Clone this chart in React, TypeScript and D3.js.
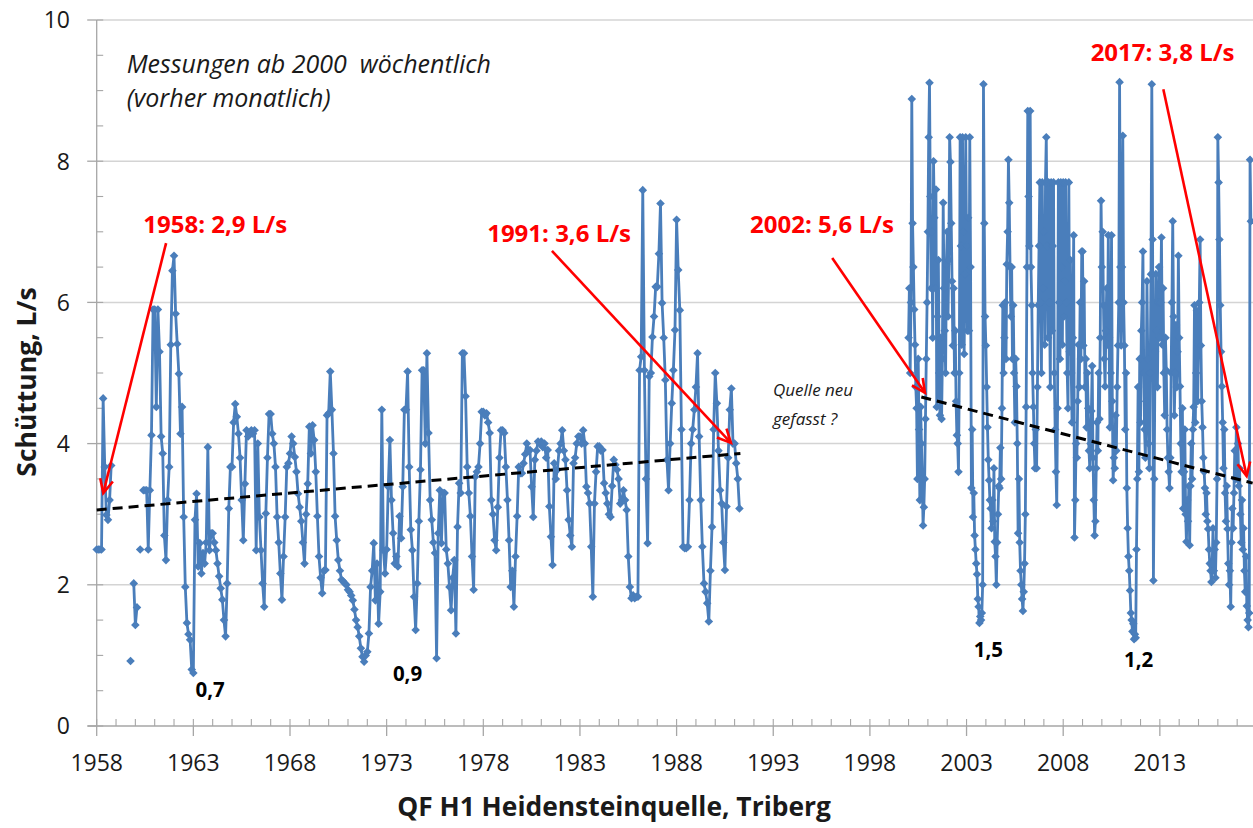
import React from 'react';
import * as d3 from 'd3';

// ---------- data: monthly measurements 1958-1991 (null = no value) ----------
const monthly1958to1964: (number | null)[] = [
  2.5, 2.5, 2.5, 2.5, 4.64, 3.67, 2.99, 2.92, 3.2, 3.69, null, null,
  null, null, null, null, null, null, null, null, null, 0.92, null, 2.02,
  1.43, 1.68, null, 2.5, null, 3.34, 3.34, 3.34, 2.5, 3.34, 4.12, 5.9,
  5.9, 4.52, 5.9, 5.3, 4.1, 3.86, 2.7, 2.35, 3.2, 3.67, 5.4, 6.45,
  6.66, 5.84, 5.41, 4.99, 4.14, 4.52, 2.96, 1.97, 1.46, 1.3, 1.22, 0.8,
  0.75, 2.92, 3.29, 2.26, 2.59, 2.16, 2.45, 2.3, 2.6, 3.95, 2.49, 2.73,
  2.73, 2.6, 2.49, 2.3, 2.12, 1.95, 1.79, 1.5, 1.27, 2.02, 3.08, 3.67,
];
const monthly1965to1971: (number | null)[] = [
  3.67, 4.3, 4.56, 4.38, 4.14, 3.8, 3.2, 2.63, 3.43, 4.19, 4.1, 4.14,
  4.19, 4.14, 4.19, 2.49, 4.0, 2.96, 2.49, 2.02, 1.69, 3.01, 3.8, 4.42,
  4.42, 4.14, 4.0, 3.67, 2.96, 2.6, 2.16, 1.79, 2.4, 2.96, 3.67, 3.72,
  3.86, 4.1, 4.0, 3.81, 3.6, 3.29, 3.1, 2.9, 2.6, 2.3, 3.0, 3.43,
  4.24, 3.86, 4.26, 4.05, 3.6, 2.97, 2.4, 2.1, 1.88, 2.2, 2.21, 4.4,
  4.43, 5.02, 4.48, 3.86, 2.97, 2.63, 2.35, 2.2, 2.07, 2.05, 2.02, 2.0,
  1.93, 1.9, 1.85, 1.78, 1.65, 1.5, 1.4, 1.27, 1.1, 0.98, 0.91, 1.0,
];
const monthly1972to1978: (number | null)[] = [
  1.05, 1.31, 1.97, 2.2, 2.59, 1.78, 2.3, 1.45, 1.9, 4.48, 2.49, 2.16,
  2.5, 3.39, 4.05, 3.2, 2.73, 2.3, 2.4, 2.26, 2.97, 2.66, 3.39, 4.48,
  4.48, 5.02, 3.67, 2.78, 2.49, 1.83, 1.36, 2.02, 2.9, 3.63, 5.04, 5.04,
  4.0, 5.28, 4.15, 3.2, 2.92, 2.6, 2.45, 0.96, 2.73, 3.34, 2.59, 3.3,
  3.3, 2.5, 2.3, 1.97, 1.64, 2.1, 2.35, 1.31, 2.82, 3.44, 3.3, 5.28,
  5.28, 4.67, 3.67, 3.3, 2.97, 2.4, 1.93, 3.53, 3.6, 3.67, 4.0, 4.45,
  4.45, 4.4, 4.43, 4.3, 4.15, 3.2, 3.0, 2.63, 2.49, 3.1, 3.8, 4.19,
];
const monthly1979to1985: (number | null)[] = [
  4.19, 4.15, 3.67, 3.2, 2.63, 1.97, 2.2, 1.69, 2.4, 2.97, 3.67, 3.58,
  3.58, 3.72, 3.85, 4.0, 3.9, 3.91, 3.39, 2.96, 3.77, 3.9, 4.03, 4.0,
  4.03, 3.95, 4.0, 3.8, 3.91, 3.11, 2.68, 2.28, 3.72, 3.5, 3.63, 3.9,
  4.0, 4.19, 3.9, 3.77, 3.34, 2.92, 2.7, 2.54, 3.72, 3.8, 4.0, 4.1,
  4.1, 4.0, 4.19, 4.0, 3.39, 3.3, 3.15, 2.54, 1.83, 3.15, 3.6, 3.96,
  3.96, 3.9, 3.91, 3.44, 3.3, 3.15, 3.0, 2.96, 3.4, 3.77, 3.7, 3.63,
  3.5, 3.15, 3.2, 3.34, 3.2, 3.06, 2.4, 1.97, 1.81, 1.85, 1.81, 1.83,
];
const monthly1986to1991: (number | null)[] = [
  1.83, 5.04, 5.23, 7.59, 5.04, 3.5, 2.59, 4.95, 5.0, 5.51, 5.8, 6.22,
  6.22, 6.69, 7.4, 5.99, 5.5, 4.9, 3.77, 3.34, 4.0, 4.57, 5.04, 5.61,
  7.17, 6.46, 5.89, 4.2, 2.54, 2.52, 2.52, 2.54, 3.2, 4.0, 4.2, 4.48,
  4.8, 5.28, 4.1, 3.2, 2.54, 2.02, 1.9, 1.74, 1.48, 2.2, 2.82, 4.2,
  5.0, 4.57, 3.9, 3.34, 3.15, 2.6, 2.21, 3.11, 3.8, 4.48, 4.78, 4.0,
  4.0, 3.72, 3.5, 3.08,
];

// ---------- data: twice-monthly readings 2000-2017 ----------
const semi2000to2005: number[] = [
  5.5, 6.2, 5.0, 6.0, 8.88, 7.12, 6.5, 5.9, 5.4, 4.8, 4.5, 3.5, 5.2, 4.2, 3.2, 4.52, 4.0, 3.5, 2.84, 3.1, 3.5, 4.35, 5.2, 6.0,
  7.0, 8.34, 9.11, 7.5, 6.2, 7.0, 5.5, 8.0, 7.2, 6.2, 7.6, 4.52, 5.8, 6.6, 5.0, 4.4, 5.5, 4.35, 5.2, 7.41, 6.2, 5.6, 5.0, 6.54,
  7.0, 5.8, 6.6, 8.34, 7.99, 7.12, 6.3, 5.39, 6.2, 5.0, 5.6, 4.6, 4.12, 4.0, 3.6, 5.0, 8.34, 6.8, 5.4, 8.34, 7.0, 5.27, 6.4, 8.34,
  6.8, 5.6, 7.2, 5.6, 8.34, 6.5, 3.37, 4.2, 2.96, 3.3, 2.7, 2.5, 2.3, 2.15, 1.8, 1.69, 1.46, 1.55, 1.5, 1.6, 2.0, 9.09, 7.12, 5.8,
  5.39, 4.8, 4.23, 3.77, 3.48, 3.2, 3.08, 2.8, 3.2, 2.9, 3.65, 2.61, 2.4, 2.0, 2.6, 3.0, 3.4, 3.37, 3.94, 3.5, 4.5, 5.96, 5.0, 5.5,
  6.0, 5.2, 6.54, 7.0, 8.02, 7.41, 6.5, 5.8, 6.5, 5.2, 5.96, 5.0, 4.3, 5.2, 4.81, 4.0, 2.73, 3.5, 2.6, 2.2, 2.0, 1.8, 1.63, 1.9,
];
const semi2006to2011: number[] = [
  2.3, 3.0, 4.52, 6.5, 8.71, 7.5, 6.8, 8.71, 6.5, 5.96, 5.0, 4.52, 4.0, 3.65, 4.2, 3.65, 4.8, 5.96, 6.8, 7.7, 6.0, 5.0, 7.7, 6.2,
  7.0, 5.4, 7.7, 8.34, 6.8, 5.5, 7.7, 6.0, 4.8, 7.7, 5.6, 6.8, 7.7, 5.0, 4.2, 3.6, 3.13, 4.5, 7.7, 6.0, 5.2, 7.7, 6.5, 5.4,
  7.7, 5.8, 6.3, 7.7, 6.0, 5.0, 4.5, 7.7, 5.3, 6.6, 5.0, 4.3, 5.5, 6.95, 2.67, 3.2, 4.0, 3.8, 4.6, 5.4, 4.8, 6.0, 5.2, 6.72,
  6.72, 5.39, 6.3, 4.8, 5.2, 4.23, 5.0, 4.5, 3.9, 3.65, 4.0, 4.46, 5.1, 3.8, 3.2, 2.7, 2.9, 3.65, 4.3, 3.9, 5.0, 4.35, 5.5, 7.44,
  6.5, 7.0, 5.96, 5.2, 4.81, 5.6, 6.2, 5.4, 6.95, 5.5, 4.23, 5.0, 6.95, 4.6, 3.48, 3.8, 3.65, 4.4, 3.9, 4.8, 5.39, 6.0, 9.12, 6.5,
  5.39, 6.5, 8.36, 6.0, 5.39, 4.2, 5.0, 3.37, 2.8, 2.4, 2.2, 1.92, 1.6, 1.5, 1.34, 1.45, 1.23, 1.3, 1.25, 2.5, 3.5, 4.8, 3.6, 5.2,
];
const semi2012to2017: number[] = [
  4.3, 5.6, 6.0, 6.72, 5.0, 4.2, 3.8, 4.6, 6.3, 5.2, 4.0, 3.65, 5.0, 6.4, 9.09, 6.89, 2.06, 3.5, 5.3, 6.4, 5.6, 4.8, 6.0, 6.5,
  5.5, 6.0, 6.92, 5.4, 6.2, 5.0, 4.4, 5.5, 5.04, 4.2, 3.8, 3.6, 3.37, 3.8, 5.0, 6.0, 7.15, 5.8, 4.4, 5.0, 5.68, 4.8, 5.3, 6.66,
  5.5, 4.81, 4.0, 3.6, 4.5, 3.08, 3.6, 4.2, 3.0, 2.61, 3.2, 2.9, 3.4, 2.56, 3.4, 4.0, 3.5, 4.2, 4.52, 5.96, 4.3, 5.0, 5.88, 4.6,
  5.4, 6.0, 6.89, 5.39, 4.6, 4.23, 3.8, 3.6, 3.37, 3.0, 3.3, 2.9, 2.79, 2.5, 2.3, 2.2, 2.04, 2.3, 2.8, 2.2, 2.5, 2.1, 2.6, 3.5,
  8.34, 7.7, 6.89, 5.96, 5.3, 4.81, 4.3, 3.65, 4.2, 3.3, 2.9, 3.4, 2.79, 2.3, 2.0, 2.2, 1.69, 2.6, 3.08, 2.8, 3.3, 3.9, 3.5, 4.23,
  3.5, 4.0, 3.4, 3.65, 3.0, 2.6, 3.2, 2.5, 2.8, 2.2, 1.9, 2.4, 1.7, 1.5, 1.4, 1.6, 8.02, 7.15,
];

// trend lines (year, L/s)
const trendEarly = [{ t: 1958.0, v: 3.06 }, { t: 1991.3, v: 3.86 }];
const trendLate = [{ t: 2000.66, v: 4.66 }, { t: 2017.8, v: 3.44 }];

// axis ticks
const xMajorTicks = [1958, 1963, 1968, 1973, 1978, 1983, 1988, 1993, 1998, 2003, 2008, 2013];
const yMajorTicks = [0, 2, 4, 6, 8, 10];

// annotations (data coordinates)
const arrowNotes = [
  { label: '1958: 2,9 L/s', lt: 1960.41, lv: 6.98, ft: 1961.59, fv: 6.84, tt: 1958.34, tv: 3.3 },
  { label: '1991: 3,6 L/s', lt: 1978.2, lv: 6.86, ft: 1981.55, fv: 6.73, tt: 1990.81, tv: 4.01 },
  { label: '2002: 5,6 L/s', lt: 1991.8, lv: 6.98, ft: 1996.05, fv: 6.63, tt: 2000.85, tv: 4.72 },
  { label: '2017: 3,8 L/s', lt: 2009.42, lv: 9.42, ft: 2013.18, fv: 9.02, tt: 2017.49, tv: 3.54 },
];
const minLabels = [
  { label: '0,7', t: 1963.87, v: 0.41 },
  { label: '0,9', t: 1974.08, v: 0.64 },
  { label: '1,5', t: 2004.13, v: 0.98 },
  { label: '1,2', t: 2011.9, v: 0.84 },
];

type Pt = { t: number; v: number | null };
const expand = (vals: (number | null)[], start: number, perYear: number): Pt[] =>
  vals.map((v, i) => ({ t: start + i / perYear, v }));

const FONT = "'Open Sans', sans-serif";
const BLUE = '#4a7ebb';

export default function App() {
  const left = 96.7;
  const pxPerYear = 19.33;
  const x = d3.scaleLinear().domain([1958, 2018]).range([left, left + 60 * pxPerYear]);
  const y = d3.scaleLinear().domain([0, 10]).range([726, 20]);
  const right = 1253;

  const early: Pt[] = [
    ...expand(monthly1958to1964, 1958, 12),
    ...expand(monthly1965to1971, 1965, 12),
    ...expand(monthly1972to1978, 1972, 12),
    ...expand(monthly1979to1985, 1979, 12),
    ...expand(monthly1986to1991, 1986, 12),
  ];
  const late: Pt[] = [
    ...expand(semi2000to2005, 2000, 24),
    ...expand(semi2006to2011, 2006, 24),
    ...expand(semi2012to2017, 2012, 24),
  ];

  const line = d3
    .line<Pt>()
    .defined((d) => d.v != null)
    .x((d) => x(d.t))
    .y((d) => y(d.v as number));

  const trendLine = d3
    .line<{ t: number; v: number }>()
    .x((d) => x(d.t))
    .y((d) => y(d.v));

  const r = 4.3;
  const diamond = `M0,${-r}L${r},0L0,${r}L${-r},0Z`;

  const xMinor = d3.range(1958, 2018);
  const yMinor = d3.range(0, 10.01, 0.5);

  const arrowHead = (x1: number, y1: number, x2: number, y2: number) => {
    const a = Math.atan2(y2 - y1, x2 - x1);
    const len = 15;
    const spread = 0.45;
    const p1 = [x2 - len * Math.cos(a - spread), y2 - len * Math.sin(a - spread)];
    const p2 = [x2 - len * Math.cos(a + spread), y2 - len * Math.sin(a + spread)];
    return `M${p1[0]},${p1[1]}L${x2},${y2}L${p2[0]},${p2[1]}`;
  };

  const allPts = [...early, ...late].filter((d) => d.v != null);

  return (
    <svg
      width={1253}
      height={828}
      style={{ position: 'absolute', left: 0, top: 0, background: '#fff' }}
      fontFamily={FONT}
    >
      <defs>
        <clipPath id="plot">
          <rect x={left - 6} y={0} width={right - left + 6} height={730} />
        </clipPath>
      </defs>
      <rect x={0} y={0} width={1253} height={828} fill="#fff" />

      {/* gridlines */}
      {yMajorTicks.filter((v) => v > 0).map((v) => (
        <line key={'g' + v} x1={left} x2={right} y1={y(v)} y2={y(v)} stroke="#d4d4d4" strokeWidth={1.5} />
      ))}

      {/* axes */}
      <line x1={left} x2={left} y1={y(10)} y2={y(0)} stroke="#a6a6a6" strokeWidth={1.3} />
      <line x1={left - 9} x2={right} y1={y(0)} y2={y(0)} stroke="#a6a6a6" strokeWidth={1.3} />
      {yMajorTicks.map((v) => (
        <line key={'yt' + v} x1={left - 9.5} x2={left} y1={y(v)} y2={y(v)} stroke="#a6a6a6" strokeWidth={1.3} />
      ))}
      {yMinor.map((v) => (
        <line key={'ym' + v} x1={left} x2={left + 6.5} y1={y(v)} y2={y(v)} stroke="#a6a6a6" strokeWidth={1.1} />
      ))}
      {xMinor.map((t) => (
        <line key={'xm' + t} x1={x(t)} x2={x(t)} y1={y(0) - 7} y2={y(0)} stroke="#a6a6a6" strokeWidth={1.1} />
      ))}
      {xMajorTicks.map((t) => (
        <line key={'xt' + t} x1={x(t)} x2={x(t)} y1={y(0)} y2={y(0) + 10} stroke="#a6a6a6" strokeWidth={1.3} />
      ))}

      {/* tick labels */}
      {yMajorTicks.map((v) => (
        <text key={'yl' + v} x={70} y={y(v) + 8.3} textAnchor="end" fontSize={23} fill="#1a1a1a">
          {v}
        </text>
      ))}
      {xMajorTicks.map((t) => (
        <text key={'xl' + t} x={x(t)} y={770.5} textAnchor="middle" fontSize={23} fill="#1a1a1a">
          {t}
        </text>
      ))}

      {/* axis titles */}
      <text x={614} y={816} textAnchor="middle" fontSize={26.4} fontWeight="bold" fill="#1a1a1a">
        QF H1 Heidensteinquelle, Triberg
      </text>
      <text
        transform={`translate(36,382) rotate(-90)`}
        textAnchor="middle"
        fontSize={26.5}
        fontWeight="bold"
        fill="#1a1a1a"
      >
        Schüttung, L/s
      </text>

      {/* data */}
      <g clipPath="url(#plot)">
        <path d={line(early) || ''} fill="none" stroke={BLUE} strokeWidth={2.8} strokeLinejoin="round" />
        <path d={line(late) || ''} fill="none" stroke={BLUE} strokeWidth={2.8} strokeLinejoin="round" />
        {allPts.map((d, i) => (
          <path key={'m' + i} d={diamond} transform={`translate(${x(d.t)},${y(d.v as number)})`} fill={BLUE} />
        ))}
        <path d={trendLine(trendEarly) || ''} fill="none" stroke="#000" strokeWidth={3} strokeDasharray="10,6" />
        <path d={trendLine(trendLate) || ''} fill="none" stroke="#000" strokeWidth={3} strokeDasharray="10,6" />
      </g>

      {/* arrows + labels */}
      {arrowNotes.map((a) => {
        const x1 = x(a.ft), y1 = y(a.fv), x2 = x(a.tt), y2 = y(a.tv);
        return (
          <g key={a.label}>
            <line x1={x1} y1={y1} x2={x2} y2={y2} stroke="#ff0000" strokeWidth={2.6} />
            <path d={arrowHead(x1, y1, x2, y2)} fill="none" stroke="#ff0000" strokeWidth={2.6} />
            <text x={x(a.lt)} y={y(a.lv)} fontSize={24} fontWeight="bold" fill="#ff0000">
              {a.label}
            </text>
          </g>
        );
      })}

      {minLabels.map((m) => (
        <text key={m.label} x={x(m.t)} y={y(m.v)} textAnchor="middle" fontSize={20.5} fontWeight="bold" fill="#000">
          {m.label}
        </text>
      ))}

      {/* notes */}
      <text x={x(1959.55)} y={y(9.25)} fontSize={25} fontStyle="italic" fill="#1a1a1a" style={{ whiteSpace: 'pre' }}>
        {'Messungen ab 2000  wöchentlich'}
      </text>
      <text x={x(1959.55)} y={y(8.77)} fontSize={25} fontStyle="italic" fill="#1a1a1a">
        (vorher monatlich)
      </text>
      <text x={x(1992.99)} y={y(4.67)} fontSize={17} fontStyle="italic" fill="#1a1a1a">
        Quelle neu
      </text>
      <text x={x(1992.99)} y={y(4.26)} fontSize={17} fontStyle="italic" fill="#1a1a1a">
        gefasst ?
      </text>
    </svg>
  );
}
